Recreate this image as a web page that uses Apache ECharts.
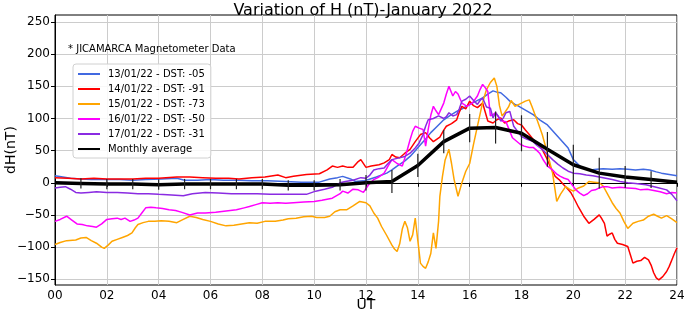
<!DOCTYPE html>
<html><head><meta charset="utf-8">
<script src="https://cdn.jsdelivr.net/npm/echarts@6/dist/echarts.min.js"></script>
<style>html,body{margin:0;padding:0;background:#fff}#c{width:685px;height:316px}</style>
</head><body><div id="c"></div>
<script>
const titleText = 'Variation of H (nT)-January 2022';
const noteText = '* JICAMARCA Magnetometer Data';
const seriesNames = ['13/01/22 - DST: -05','14/01/22 - DST: -91','15/01/22 - DST: -73','16/01/22 - DST: -50','17/01/22 - DST: -31','Monthly average'];
const xTicks = [0,2,4,6,8,10,12,14,16,18,20,22,24];
const yTicks = [-150,-100,-50,0,50,100,150,200,250];

const day13 = [[0,11],[0.3,9],[0.6,7],[1.0,6],[1.4,5],[1.9,5],[2.5,5],[3.0,4],[3.5,5],[4.1,6],[4.7,7],[5.0,4],[5.5,4],[6.0,5],[6.5,4],[7.1,4],[7.6,3],[8.2,3],[8.9,2],[9.5,1],[10.2,1],[10.6,6],[10.9,8],[11.1,10],[11.4,6],[11.6,2],[11.9,3],[12.1,5],[12.4,9],[12.8,15],[13.0,20],[13.2,26],[13.5,34],[13.7,41],[13.9,50],[14.1,59],[14.3,68],[14.5,78],[14.75,88],[15.0,98],[15.25,105],[15.5,111],[15.75,116],[16.0,122],[16.25,127],[16.5,132],[16.7,138],[16.9,143],[17.05,141],[17.2,140],[17.4,133],[17.55,127],[17.75,122],[17.9,119],[18.2,112],[18.45,106],[18.7,98],[19.0,90],[19.2,81],[19.4,72],[19.6,63],[19.8,54],[20.0,36],[20.25,26],[20.45,22],[20.65,20],[20.9,21],[21.15,22],[21.5,21],[21.8,22],[22.1,21],[22.4,20],[22.7,21],[22.95,20],[23.2,17],[23.4,15],[23.7,13],[24,11]];

const day14 = [[0,8],[0.5,7],[1.0,6],[1.5,7],[2.0,6],[2.5,6],[3.0,6],[3.5,7],[4.0,7],[4.7,9],[5.2,9],[5.7,8],[6.2,7],[6.7,7],[7.1,6],[7.6,8],[8.1,9],[8.6,12],[8.9,8],[9.2,10],[9.7,13],[10.2,14],[10.5,20],[10.7,26],[10.9,24],[11.1,26],[11.3,24],[11.5,24],[11.7,33],[11.8,36],[12.0,24],[12.2,26],[12.5,28],[12.7,31],[12.9,36],[13.0,44],[13.15,40],[13.3,39],[13.5,46],[13.7,52],[13.9,64],[14.1,75],[14.3,78],[14.45,70],[14.6,64],[14.85,71],[15.0,82],[15.1,88],[15.3,92],[15.5,98],[15.6,110],[15.7,119],[15.85,115],[16.0,127],[16.15,120],[16.3,117],[16.5,124],[16.6,110],[16.7,96],[16.9,93],[17.05,98],[17.2,101],[17.35,93],[17.5,96],[17.7,98],[17.85,92],[18.0,90],[18.15,82],[18.3,75],[18.5,65],[18.65,60],[18.8,52],[18.95,40],[19.1,26],[19.3,10],[19.45,5],[19.6,-2],[19.75,-8],[19.9,-15],[20.05,-26],[20.2,-38],[20.4,-52],[20.6,-63],[20.8,-57],[21.0,-50],[21.1,-56],[21.2,-63],[21.3,-83],[21.4,-80],[21.5,-78],[21.6,-88],[21.7,-94],[21.9,-96],[22.1,-99],[22.2,-112],[22.3,-125],[22.45,-122],[22.6,-121],[22.75,-116],[22.9,-120],[23.0,-128],[23.1,-140],[23.2,-148],[23.3,-151],[23.45,-146],[23.6,-138],[23.7,-130],[23.8,-120],[23.9,-110],[24.0,-101]];

const day15 = [[0,-96],[0.2,-93],[0.45,-90],[0.8,-89],[1.0,-86],[1.2,-85],[1.4,-90],[1.6,-94],[1.8,-100],[1.9,-102],[2.05,-97],[2.2,-91],[2.4,-88],[2.6,-85],[2.8,-82],[2.97,-78],[3.1,-70],[3.2,-65],[3.4,-62],[3.6,-60],[3.85,-60],[4.1,-59],[4.4,-60],[4.7,-62],[4.95,-57],[5.2,-52],[5.45,-54],[5.7,-57],[6.0,-60],[6.3,-64],[6.6,-67],[6.9,-66],[7.2,-64],[7.5,-62],[7.8,-63],[8.1,-60],[8.5,-60],[8.8,-58],[9.0,-56],[9.3,-55],[9.6,-53],[9.9,-52],[10.1,-54],[10.4,-54],[10.6,-52],[10.8,-45],[11.0,-42],[11.25,-42],[11.5,-36],[11.76,-29],[12.0,-31],[12.15,-36],[12.3,-47],[12.45,-55],[12.6,-68],[12.8,-82],[13.0,-97],[13.1,-103],[13.2,-107],[13.3,-95],[13.4,-72],[13.5,-60],[13.6,-70],[13.7,-91],[13.8,-81],[13.9,-55],[14.0,-90],[14.1,-125],[14.2,-130],[14.3,-133],[14.4,-123],[14.5,-110],[14.6,-78],[14.7,-102],[14.8,-60],[14.85,-21],[14.95,10],[15.05,35],[15.2,52],[15.3,30],[15.4,5],[15.55,-21],[15.7,0],[15.85,18],[16.0,30],[16.15,60],[16.3,88],[16.5,125],[16.65,145],[16.8,156],[16.95,163],[17.05,150],[17.15,120],[17.25,104],[17.35,109],[17.5,118],[17.6,128],[17.75,119],[17.9,122],[18.0,124],[18.15,127],[18.3,129],[18.4,119],[18.5,108],[18.6,98],[18.8,75],[19.0,46],[19.2,15],[19.36,-29],[19.5,-18],[19.7,-6],[19.85,-10],[20.0,-13],[20.2,-8],[20.4,-5],[20.6,2],[20.8,1],[21.0,0],[21.15,-5],[21.3,-16],[21.5,-31],[21.65,-40],[21.8,-47],[21.95,-60],[22.1,-71],[22.3,-63],[22.5,-60],[22.7,-58],[22.9,-52],[23.1,-49],[23.25,-52],[23.4,-55],[23.6,-51],[23.8,-56],[24.0,-62]];

const day16 = [[0,-60],[0.2,-57],[0.45,-52],[0.65,-58],[0.85,-64],[1.05,-65],[1.25,-67],[1.45,-68],[1.6,-69],[1.8,-64],[2.0,-57],[2.2,-56],[2.4,-55],[2.55,-57],[2.7,-55],[2.9,-60],[3.05,-58],[3.2,-55],[3.35,-47],[3.5,-39],[3.7,-38],[3.9,-39],[4.15,-40],[4.4,-42],[4.65,-43],[4.9,-46],[5.2,-50],[5.5,-47],[5.8,-47],[6.2,-46],[6.6,-44],[7.0,-42],[7.3,-39],[7.5,-37],[7.75,-34],[8.0,-31],[8.3,-32],[8.6,-31],[8.9,-32],[9.2,-31],[9.6,-30],[10.0,-29],[10.3,-27],[10.7,-24],[11.0,-17],[11.1,-13],[11.3,-16],[11.5,-10],[11.7,-11],[11.9,-15],[12.1,-3],[12.3,5],[12.5,9],[12.7,15],[12.85,26],[13.0,36],[13.2,30],[13.4,26],[13.55,45],[13.7,67],[13.8,80],[13.9,88],[14.05,85],[14.2,83],[14.3,57],[14.4,83],[14.5,105],[14.6,119],[14.7,112],[14.8,106],[14.9,115],[15.0,124],[15.1,138],[15.2,150],[15.3,140],[15.35,135],[15.45,142],[15.55,138],[15.7,124],[15.9,119],[16.1,124],[16.3,135],[16.4,145],[16.5,153],[16.6,148],[16.7,142],[16.8,104],[16.9,106],[17.0,109],[17.15,100],[17.25,96],[17.4,95],[17.5,85],[17.65,70],[17.8,65],[17.95,60],[18.1,57],[18.3,55],[18.45,55],[18.6,50],[18.7,46],[18.85,35],[19.0,26],[19.2,20],[19.35,14],[19.5,10],[19.65,7],[19.8,5],[19.95,-3],[20.1,-11],[20.25,-16],[20.4,-20],[20.55,-17],[20.7,-12],[20.85,-11],[21.0,-8],[21.15,-6],[21.3,-6],[21.5,-8],[21.8,-7],[22.1,-8],[22.4,-9],[22.6,-11],[22.85,-10],[23.1,-12],[23.35,-14],[23.6,-17],[23.8,-15],[24.0,-16]];

const day17 = [[0,-8],[0.2,-7],[0.4,-6],[0.6,-10],[0.8,-15],[1.0,-16],[1.3,-15],[1.6,-14],[2.0,-15],[2.4,-15],[2.8,-16],[3.2,-17],[3.6,-17],[4.0,-18],[4.5,-19],[4.95,-20],[5.3,-17],[5.8,-15],[6.3,-16],[6.8,-17],[7.3,-17],[7.8,-17],[8.3,-18],[8.8,-18],[9.3,-18],[9.7,-18],[10.06,-13],[10.4,-10],[10.7,-7],[11.0,0],[11.2,2],[11.5,4],[11.8,8],[12.0,7],[12.15,12],[12.3,20],[12.5,22],[12.7,23],[12.85,30],[13.0,36],[13.2,38],[13.5,41],[13.7,46],[13.9,54],[14.05,62],[14.2,75],[14.3,88],[14.4,98],[14.6,100],[14.8,104],[15.0,100],[15.1,103],[15.2,109],[15.35,104],[15.5,106],[15.6,115],[15.7,127],[15.85,130],[16.0,135],[16.15,128],[16.3,122],[16.4,128],[16.5,132],[16.65,118],[16.8,116],[16.9,101],[17.0,109],[17.1,104],[17.2,96],[17.3,101],[17.4,109],[17.55,111],[17.7,88],[17.85,80],[18.0,72],[18.2,68],[18.45,64],[18.6,58],[18.8,52],[19.0,44],[19.2,36],[19.4,29],[19.6,23],[19.8,18],[20.0,15],[20.25,14],[20.5,12],[20.75,11],[21.0,9],[21.25,7],[21.5,5],[21.8,2],[22.1,0],[22.4,-1],[22.8,-3],[23.2,-7],[23.6,-11],[23.8,-18],[24.0,-28]];

const avgHours = [0,1,2,3,4,5,6,7,8,9,10,11,12,13,14,15,16,17,18,19,20,21,22,23,24];
const avgValues = [0,-1,-2,-2,-3,-2,-2,-2,-2,-4,-4,-3,0,2,27,64,85,86,77,52,28,15,9,5,1];
const errHours = [1,2,3,4,5,6,7,8,9,10,11,12,13,14,15,16,17,18,19,20,21,22,23];
const errValues = [8,8,8,8,8,8,8,8,8,8,9,12,18,18,18,22,25,28,27,31,24,17,13];

const colors = ['#4169e1','#ff0000','#ffa500','#ff00ff','#8a2be2','#000000'];
const FONT = 'DejaVu Sans';

const chart = echarts.init(document.getElementById('c'), null, {renderer:'canvas'});
const daySeries = [day13, day14, day15, day16, day17].map((d,i)=>({
  name: seriesNames[i], type:'line', data:d, symbol:'none', showSymbol:false,
  lineStyle:{color:colors[i], width:1.5}, itemStyle:{color:colors[i]}, z:2+i, animation:false
}));
const avgLine = avgHours.map((h,i)=>[h, avgValues[i]]);
const errData = errHours.map((h,i)=>[h, avgValues[avgHours.indexOf(h)], errValues[i]]);

const fmtY = v => (v < 0 ? '\u2212' + Math.abs(v) : String(v));
chart.setOption({
  animation:false,
  title:{text:titleText, left:358, textAlign:'center', top:-2, textStyle:{fontFamily:FONT, fontSize:16, fontWeight:'normal', color:'#000'}},
  grid:{left:55, right:8, top:15, bottom:31, outerBoundsMode:'none', containLabel:false, show:true, borderColor:'#000', borderWidth:1, backgroundColor:'transparent'},
  legend:{
    data: seriesNames, orient:'vertical', left:73, top:64, itemWidth:22, itemHeight:10, itemGap:5,
    padding:[5,6,4,4], backgroundColor:'rgba(255,255,255,0.85)', borderColor:'#d0d0d0', borderWidth:1, borderRadius:3,
    itemStyle:{opacity:0},
    textStyle:{fontFamily:FONT, fontSize:10, color:'#000', padding:[0,0,0,3]}
  },
  graphic:[{type:'text', left:68, top:44, z:100, style:{text:noteText, font:'10px "DejaVu Sans"', fill:'#000'}}],
  xAxis:{
    type:'value', min:0, max:24, interval:2,
    name:'UT', nameLocation:'middle', nameGap:13, nameMoveOverlap:false, nameTextStyle:{fontFamily:FONT, fontSize:14, color:'#000'},
    axisLine:{show:true, lineStyle:{color:'#000', width:1}},
    axisTick:{show:true, length:4, inside:false, lineStyle:{color:'#000'}},
    axisLabel:{fontFamily:FONT, fontSize:12, color:'#000', margin:5, formatter:v=>String(v).padStart(2,'0')},
    splitLine:{show:true, lineStyle:{color:'#cccccc', width:1}}
  },
  yAxis:{
    type:'value', min:-159, max:261,
    name:'dH(nT)', nameLocation:'middle', nameGap:37, nameMoveOverlap:false, nameTextStyle:{fontFamily:FONT, fontSize:14, color:'#000'},
    axisLine:{show:true, onZero:false, lineStyle:{color:'#000', width:1}},
    axisTick:{show:true, length:4, customValues:yTicks, lineStyle:{color:'#000'}},
    axisLabel:{fontFamily:FONT, fontSize:12, color:'#000', margin:5, customValues:yTicks, formatter:fmtY},
    splitLine:{show:true, lineStyle:{color:'#cccccc', width:1}}
  },
  series: daySeries.concat([
    {name:seriesNames[5], type:'line', data:avgLine, symbol:'none', showSymbol:false, lineStyle:{color:'#000', width:3.5}, itemStyle:{color:'#000'}, z:10},
    {name:'errbars', type:'custom', data:errData, z:11, silent:true,
     renderItem:(params, api)=>{
       const x=api.value(0), v=api.value(1), e=api.value(2);
       const p1=api.coord([x, v-e]), p2=api.coord([x, v+e]);
       return {type:'line', shape:{x1:p1[0], y1:p1[1], x2:p2[0], y2:p2[1]}, style:{stroke:'#222', lineWidth:1.2}};
     }}
  ])
});
</script></body></html>
